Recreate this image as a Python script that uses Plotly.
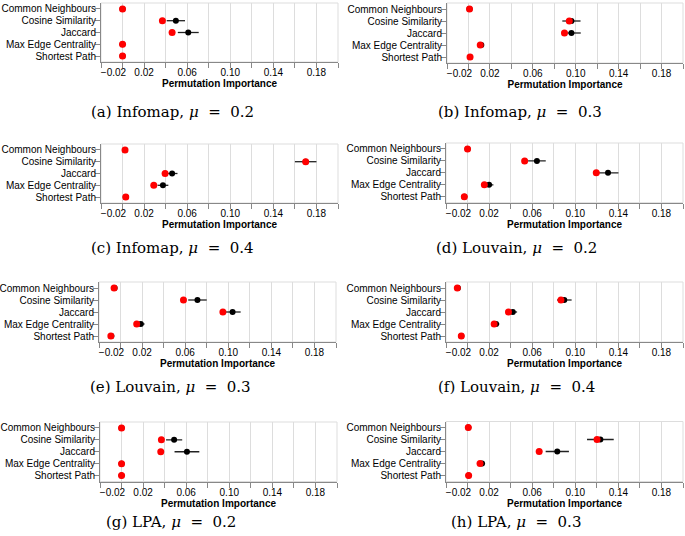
import plotly.graph_objects as go

features = ["Common Neighbours", "Cosine Similarity", "Jaccard",
            "Max Edge Centrality", "Shortest Path"]

x_tick_vals = [-0.02, 0.0, 0.02, 0.04, 0.06, 0.08, 0.10, 0.12, 0.14, 0.16, 0.18, 0.20]
x_tick_text = ["\u00a0" * 9 + "\u22120.02", "", "0.02", "", "0.06", "", "0.10", "",
               "0.14", "", "0.18", ""]
x_range = [-0.02, 0.20]

EQ = "\u00a0\u00a0=\u00a0\u00a0"
captions = ["(a) Infomap, <i>μ</i>" + EQ + "0.2", "(b) Infomap, <i>μ</i>" + EQ + "0.3",
            "(c) Infomap, <i>μ</i>" + EQ + "0.4", "(d) Louvain, <i>μ</i>" + EQ + "0.2",
            "(e) Louvain, <i>μ</i>" + EQ + "0.3", "(f) Louvain, <i>μ</i>" + EQ + "0.4",
            "(g) LPA, <i>μ</i>" + EQ + "0.2", "(h) LPA, <i>μ</i>" + EQ + "0.3"]

# red = point estimate, mean/std = black point with error bar
infomap_02_red = [0.0, 0.037, 0.046, 0.0, 0.0]
infomap_02_mean = [0.0, 0.0495, 0.061, 0.0, 0.0]
infomap_02_std = [0.0, 0.0085, 0.0097, 0.0, 0.0]

infomap_03_red = [0.001, 0.094, 0.0895, 0.011, 0.0015]
infomap_03_mean = [0.001, 0.096, 0.096, 0.012, 0.0015]
infomap_03_std = [0.0, 0.0085, 0.0087, 0.001, 0.0]

infomap_04_red = [0.0023, 0.170, 0.0395, 0.029, 0.003]
infomap_04_mean = [0.0023, 0.170, 0.046, 0.0375, 0.003]
infomap_04_std = [0.0, 0.010, 0.005, 0.005, 0.0]

louvain_02_red = [0.0, 0.053, 0.1195, 0.0156, -0.003]
louvain_02_mean = [0.0, 0.0644, 0.1304, 0.020, -0.003]
louvain_02_std = [0.0, 0.0082, 0.0097, 0.004, 0.0]

louvain_03_red = [-0.006, 0.0584, 0.095, 0.015, -0.009]
louvain_03_mean = [-0.0055, 0.0714, 0.104, 0.0188, -0.0085]
louvain_03_std = [0.0005, 0.0086, 0.0075, 0.0035, 0.0005]

louvain_04_red = [-0.0095, 0.0867, 0.038, 0.0247, -0.0058]
louvain_04_mean = [-0.009, 0.0898, 0.042, 0.0265, -0.0058]
louvain_04_std = [0.0005, 0.0068, 0.004, 0.003, 0.0]

lpa_02_red = [0.0, 0.037, 0.0364, 0.0, 0.0]
lpa_02_mean = [0.0, 0.0488, 0.0607, 0.0, 0.0]
lpa_02_std = [0.0, 0.0075, 0.0115, 0.0, 0.0]

lpa_03_red = [0.0007, 0.1202, 0.0665, 0.0116, 0.001]
lpa_03_mean = [0.0007, 0.1233, 0.0833, 0.0135, 0.001]
lpa_03_std = [0.0, 0.0124, 0.0108, 0.002, 0.0]

panels = [
    (infomap_02_red, infomap_02_mean, infomap_02_std),
    (infomap_03_red, infomap_03_mean, infomap_03_std),
    (infomap_04_red, infomap_04_mean, infomap_04_std),
    (louvain_02_red, louvain_02_mean, louvain_02_std),
    (louvain_03_red, louvain_03_mean, louvain_03_std),
    (louvain_04_red, louvain_04_mean, louvain_04_std),
    (lpa_02_red, lpa_02_mean, lpa_02_std),
    (lpa_03_red, lpa_03_mean, lpa_03_std),
]

W, H = 685, 536
# pixel boxes (left, right, top, bottom) of each plot area
boxes = [
    (101, 338, 3, 62), (447, 683, 3, 63),
    (101, 338, 144, 203), (446, 683, 143, 202.7),
    (99, 336, 282, 342), (446, 683, 282, 342),
    (100, 337, 422, 481.5), (446, 683, 421.5, 481.5),
]
caption_pos = [(172, 112), (520, 112), (172, 248), (516, 248),
               (170, 387), (516, 387), (171, 522), (516, 522)]

SANS = "Liberation Sans, Arial, sans-serif"
fig = go.Figure()
layout = dict(width=W, height=H, margin=dict(l=0, r=0, t=0, b=0),
              paper_bgcolor="white", plot_bgcolor="white", showlegend=False)
annotations = []
shapes = []

for i, ((red, mean, std), box) in enumerate(zip(panels, boxes)):
    n = "" if i == 0 else str(i + 1)
    xa, ya = "x" + n, "y" + n
    fig.add_trace(go.Scatter(
        x=mean, y=features, mode="markers", xaxis=xa, yaxis=ya,
        marker=dict(color="black", size=6),
        error_x=dict(type="data", array=std, color="#222", thickness=1.3, width=0)))
    fig.add_trace(go.Scatter(
        x=red, y=features, mode="markers", xaxis=xa, yaxis=ya,
        marker=dict(color="#ff0000", size=7)))
    l, r, t, b = box
    layout["xaxis" + n] = dict(
        domain=[l / W, r / W], anchor=ya, range=x_range,
        tickmode="array", tickvals=x_tick_vals, ticktext=x_tick_text,
        ticks="outside", ticklen=5, tickcolor="#888", tickwidth=1,
        ticklabelstandoff=-4,
        showline=True, linecolor="#888", linewidth=1,
        showgrid=True, gridcolor="#ddd", gridwidth=1, zeroline=False,
        tickfont=dict(family=SANS, size=10, color="black"),
        title=dict(text="Permutation Importance", standoff=0,
                   font=dict(family=SANS, size=10, color="black", weight="bold")),
        automargin=False, fixedrange=True)
    layout["yaxis" + n] = dict(
        domain=[1 - b / H, 1 - t / H], anchor=xa,
        type="category", categoryorder="array", categoryarray=features,
        tickmode="array", tickvals=features, ticktext=features,
        range=[4.5, -0.5],
        ticks="outside", ticklen=5, tickcolor="#888", tickwidth=1,
        ticklabelstandoff=-3,
        showline=True, linecolor="#888", linewidth=1,
        showgrid=False, zeroline=False,
        tickfont=dict(family=SANS, size=10, color="black"),
        automargin=False, fixedrange=True)
    shapes.append(dict(type="rect", xref=xa + " domain", yref=ya + " domain",
                       x0=0, x1=1, y0=0, y1=1, line=dict(color="#ddd", width=1),
                       layer="below"))
    cx, cy = caption_pos[i]
    annotations.append(dict(text=captions[i], x=cx / W, y=1 - cy / H,
                            xref="paper", yref="paper", showarrow=False,
                            xanchor="center", yanchor="middle",
                            font=dict(family="DejaVu Serif, serif", size=15,
                                      color="black")))

layout["annotations"] = annotations
layout["shapes"] = shapes
fig.update_layout(**layout)
fig.write_html("out.html", post_script="document.body.style.margin='0px';",
               config={"displayModeBar": False})
